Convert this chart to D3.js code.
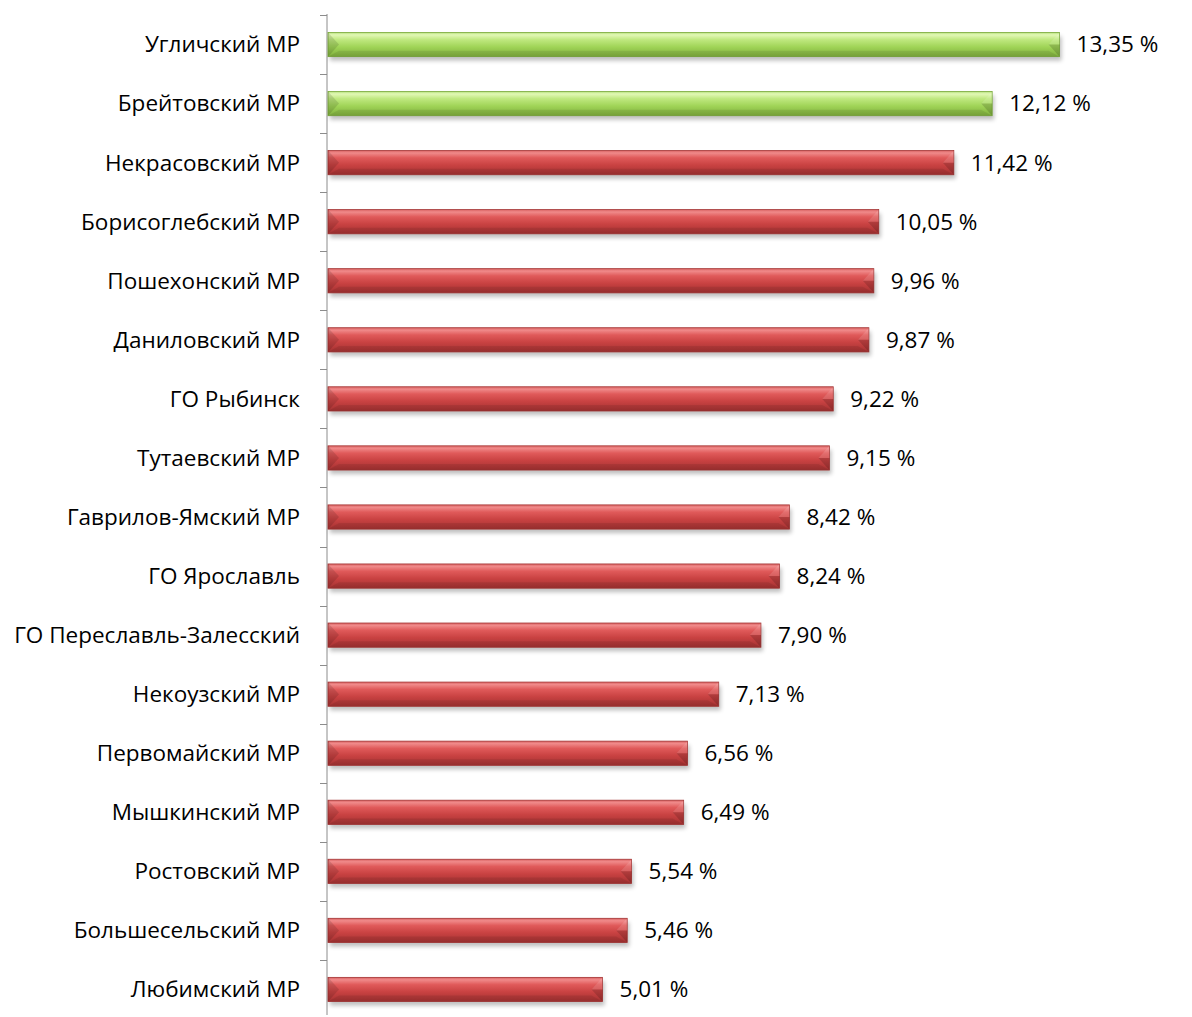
<!DOCTYPE html>
<html>
<head>
<meta charset="utf-8">
<script src="https://cdn.jsdelivr.net/npm/d3@7"></script>
<style>
  html, body { margin: 0; padding: 0; background: #fff; }
  svg { display: block; }
  text { font-family: "Open Sans", "Noto Sans", sans-serif; fill: #000; }
</style>
</head>
<body>
<svg id="chart" width="1192" height="1017"></svg>
<script>
// data
var districts = ["Угличский МР", "Брейтовский МР", "Некрасовский МР", "Борисоглебский МР",
  "Пошехонский МР", "Даниловский МР", "ГО Рыбинск", "Тутаевский МР", "Гаврилов-Ямский МР",
  "ГО Ярославль", "ГО Переславль-Залесский", "Некоузский МР", "Первомайский МР",
  "Мышкинский МР", "Ростовский МР", "Большесельский МР", "Любимский МР"];
var shares = [13.35, 12.12, 11.42, 10.05, 9.96, 9.87, 9.22, 9.15, 8.42, 8.24, 7.90, 7.13,
  6.56, 6.49, 5.54, 5.46, 5.01];
var leaders = ["Угличский МР", "Брейтовский МР"];

var svg = d3.select("#chart");
var x0 = 328;
var x = d3.scaleLinear().domain([0, 1]).range([x0, x0 + 54.8]);
var y = d3.scaleBand().domain(districts).range([15, 1019])
  .paddingInner(0.59).paddingOuter(0.295);

var defs = svg.append("defs");
function grad(id, stops) {
  var g = defs.append("linearGradient").attr("id", id)
    .attr("x1", 0).attr("y1", 0).attr("x2", 0).attr("y2", 1);
  stops.forEach(function(s) {
    g.append("stop").attr("offset", s[0]).attr("stop-color", s[1]);
  });
}
grad("red", [[0, "#d96262"], [0.1, "#f08a8a"], [0.3, "#e05a5a"], [0.6, "#c94242"], [1, "#a33232"]]);
grad("green", [[0, "#b3e079"], [0.1, "#e2f8b5"], [0.3, "#bfe87f"], [0.6, "#a0d457"], [1, "#7fae3d"]]);
var f = defs.append("filter").attr("id", "shadow")
  .attr("x", "-5%").attr("y", "-50%").attr("width", "110%").attr("height", "200%");
f.append("feGaussianBlur").attr("stdDeviation", 2);

// axis line + ticks between categories
var step = y.step();
svg.append("line")
  .attr("x1", x0 - 1).attr("x2", x0 - 1)
  .attr("y1", 14).attr("y2", 1015)
  .attr("stroke", "#8c8c8c").attr("stroke-width", 1);
d3.range(districts.length + 1).forEach(function(i) {
  var yy = Math.round(15 + i * step) + 0.5;
  if (yy > 1015) return;
  svg.append("line")
    .attr("x1", x0 - 8).attr("x2", x0 - 1)
    .attr("y1", yy).attr("y2", yy)
    .attr("stroke", "#8c8c8c").attr("stroke-width", 1);
});

var bars = svg.append("g").selectAll("g").data(districts).join("g")
  .attr("transform", function(d) { return "translate(0," + y(d) + ")"; });
var bh = y.bandwidth();

// soft shadow
bars.append("rect")
  .attr("x", x(0) + 2).attr("y", 4)
  .attr("width", function(d, i) { return x(shares[i]) - x(0); })
  .attr("height", bh)
  .attr("fill", "#000").attr("opacity", 0.25)
  .attr("filter", "url(#shadow)");

bars.append("rect")
  .attr("x", x(0)).attr("y", 0)
  .attr("width", function(d, i) { return x(shares[i]) - x(0); })
  .attr("height", bh)
  .attr("fill", function(d) { return leaders.indexOf(d) >= 0 ? "url(#green)" : "url(#red)"; })
  .attr("stroke", function(d) { return leaders.indexOf(d) >= 0 ? "#79a83a" : "#a33433"; })
  .attr("stroke-width", 0.8);

// bevelled ends
var bev = 11;
bars.append("path")
  .attr("d", function() {
    var a = x(0);
    return "M" + a + ",0L" + (a + bev) + "," + (bh / 2) + "L" + a + "," + bh + "Z";
  })
  .attr("fill", "#000").attr("opacity", 0.12);
bars.append("path")
  .attr("d", function(d, i) {
    var b = x(shares[i]);
    return "M" + b + ",0L" + (b - bev) + "," + (bh / 2) + "L" + b + "," + (bh / 2) + "Z";
  })
  .attr("fill", "#fff").attr("opacity", 0.12);
bars.append("path")
  .attr("d", function(d, i) {
    var b = x(shares[i]);
    return "M" + b + "," + (bh / 2) + "L" + (b - bev) + "," + (bh / 2) + "L" + b + "," + bh + "Z";
  })
  .attr("fill", "#000").attr("opacity", 0.15);
bars.append("path")
  .attr("d", function(d, i) {
    var a = x(0), b = x(shares[i]);
    return "M" + a + "," + bh + "L" + (a + bev) + "," + (bh - 6) + "L" + (b - bev) + "," + (bh - 6) + "L" + b + "," + bh + "Z";
  })
  .attr("fill", "#000").attr("opacity", 0.08);

// category labels
svg.append("g").selectAll("text").data(districts).join("text")
  .attr("x", 300)
  .attr("y", function(d) { return y(d) + bh / 2; })
  .attr("dy", "0.35em")
  .attr("text-anchor", "end")
  .attr("font-size", 22.5)
  .text(function(d) { return d; });

// value labels
bars.append("text")
  .attr("x", function(d, i) { return x(shares[i]) + 17; })
  .attr("y", bh / 2)
  .attr("dy", "0.35em")
  .attr("font-size", 22.5)
  .text(function(d, i) { return d3.format(".2f")(shares[i]).replace(".", ",") + " %"; });
</script>
</body>
</html>
